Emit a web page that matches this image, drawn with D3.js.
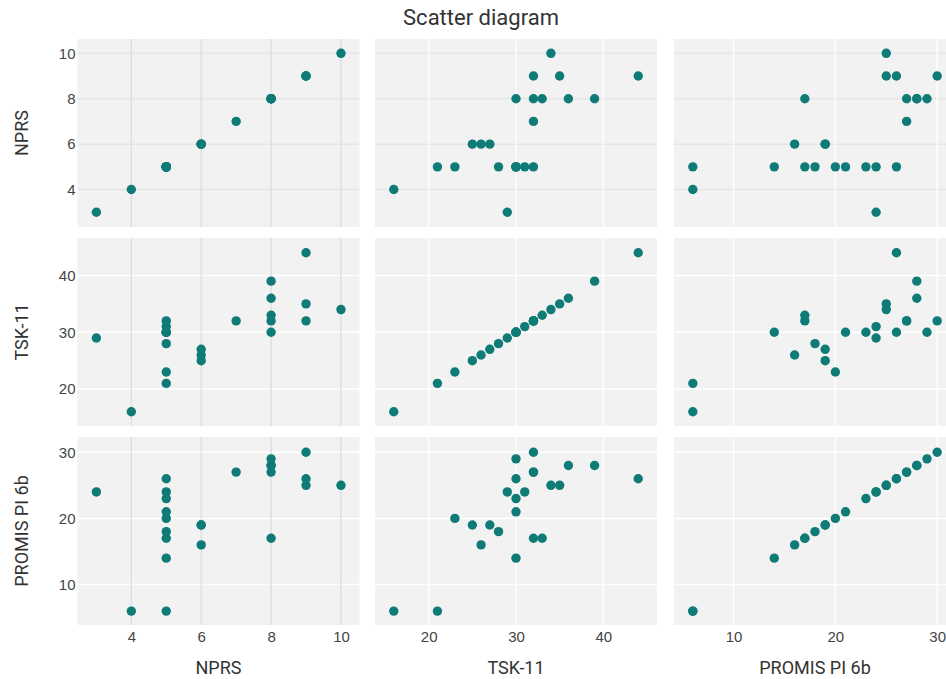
<!DOCTYPE html>
<html>
<head>
<meta charset="utf-8">
<script src="https://cdn.jsdelivr.net/npm/d3@7"></script>
<style>
  body { margin: 0; background: #fff; }
  svg { display: block; font-family: Roboto, "Noto Sans", sans-serif; }
  .tick text { fill: #444; }
</style>
</head>
<body>
<svg id="area" width="946" height="679"></svg>
<script>
// one entry per subject
const nprs = [4, 5, 5, 6, 6, 6, 5, 3, 8, 5, 5, 5, 5, 5, 9, 7, 8, 5, 8, 10, 9, 8, 8, 9];
const tsk = [16, 21, 23, 25, 26, 27, 28, 29, 30, 30, 30, 30, 30, 31, 32, 32, 32, 32, 33, 34, 35, 36, 39, 44];
const promis = [6, 6, 20, 19, 16, 19, 18, 24, 29, 26, 23, 21, 14, 24, 30, 27, 27, 17, 17, 25, 25, 28, 28, 26];

const varNames = ['NPRS', 'TSK-11', 'PROMIS PI 6b'];
const nprsTicks = [4, 6, 8, 10];
const tskTicks = [20, 30, 40];
const promisTicks = [10, 20, 30];

const columns = [nprs, tsk, promis];
const tickSets = [nprsTicks, tskTicks, promisTicks];

// autorange-ish padding
const xDomains = [[2.46, 10.53], [13.85, 46.15], [4.15, 31.85]];
const yDomains = [[2.35, 10.63], [13.5, 46.6], [3.9, 32.3]];

const colX = [77.5, 375, 674];
const rowY = [39, 238, 437];
const cellW = 282;
const cellH = 188;

const svg = d3.select('#area');

svg.append('text')
  .attr('x', 481)
  .attr('y', 25)
  .attr('text-anchor', 'middle')
  .style('font-size', '22px')
  .style('fill', '#333')
  .text('Scatter diagram');

const xScales = xDomains.map((dom, j) => d3.scaleLinear().domain(dom).range([colX[j], colX[j] + cellW]));
const yScales = yDomains.map((dom, i) => d3.scaleLinear().domain(dom).range([rowY[i] + cellH, rowY[i]]));

const dotColor = '#0e7b77';

for (let i = 0; i < 3; i += 1) {
  for (let j = 0; j < 3; j += 1) {
    const x = xScales[j];
    const y = yScales[i];
    const g = svg.append('g');

    g.append('rect')
      .attr('x', colX[j])
      .attr('y', rowY[i])
      .attr('width', cellW)
      .attr('height', cellH)
      .style('fill', '#f2f2f2');

    // horizontal grid
    g.selectAll('line.hg')
      .data(tickSets[i])
      .enter().append('line')
      .attr('class', 'hg')
      .attr('x1', colX[j])
      .attr('x2', colX[j] + cellW)
      .attr('y1', (d) => y(d))
      .attr('y2', (d) => y(d))
      .attr('stroke', i === 0 ? '#e4e5e7' : '#fff')
      .attr('stroke-width', 1.5);

    // vertical grid
    g.selectAll('line.vg')
      .data(tickSets[j])
      .enter().append('line')
      .attr('class', 'vg')
      .attr('y1', rowY[i])
      .attr('y2', rowY[i] + cellH)
      .attr('x1', (d) => x(d))
      .attr('x2', (d) => x(d))
      .attr('stroke', j === 0 ? '#dcdfe3' : '#fff')
      .attr('stroke-width', 1.4);

    const pts = nprs.map((_, k) => [columns[j][k], columns[i][k]]);
    g.selectAll('circle')
      .data(pts)
      .enter().append('circle')
      .attr('cx', (d) => x(d[0]))
      .attr('cy', (d) => y(d[1]))
      .attr('r', 4.7)
      .style('fill', dotColor);
  }
}

// left tick labels
yScales.forEach((y, i) => {
  const ax = svg.append('g')
    .attr('transform', `translate(${colX[0] - 2}, 0)`)
    .call(d3.axisLeft(y).tickValues(tickSets[i]).tickSize(0).tickPadding(0).tickFormat(d3.format('d')));
  ax.select('.domain').remove();
  ax.selectAll('text').style('font-size', '15px');

  svg.append('text')
    .attr('transform', `translate(28, ${rowY[i] + cellH / 2}) rotate(-90)`)
    .attr('text-anchor', 'middle')
    .style('font-size', '18px')
    .style('fill', '#333')
    .text(varNames[i]);
});

// bottom tick labels
xScales.forEach((x, j) => {
  const ax = svg.append('g')
    .attr('transform', `translate(0, ${rowY[2] + cellH + 6})`)
    .call(d3.axisBottom(x).tickValues(tickSets[j]).tickSize(0).tickPadding(0).tickFormat(d3.format('d')));
  ax.select('.domain').remove();
  ax.selectAll('text').style('font-size', '15px');

  svg.append('text')
    .attr('x', colX[j] + cellW / 2)
    .attr('y', 674)
    .attr('text-anchor', 'middle')
    .style('font-size', '18px')
    .style('fill', '#333')
    .text(varNames[j]);
});
</script>
</body>
</html>
